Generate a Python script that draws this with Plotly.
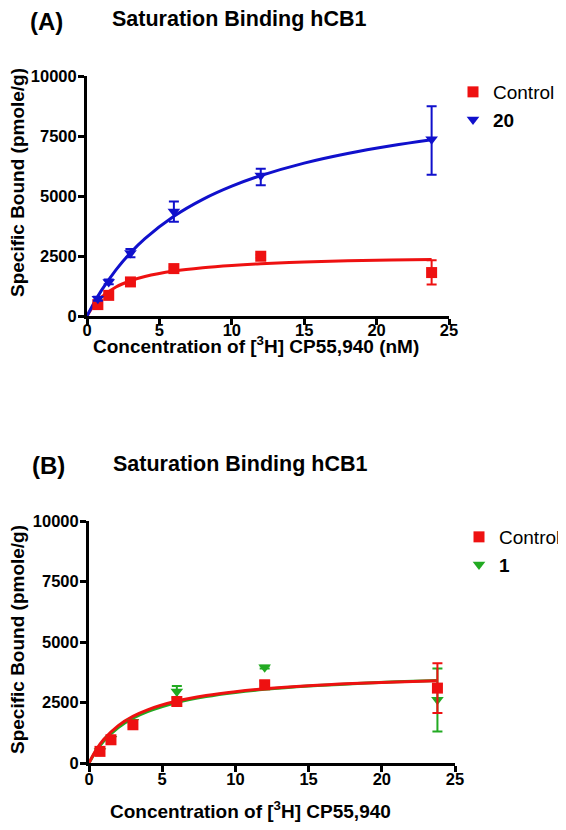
import plotly.graph_objects as go

# ---------------- Data ----------------
conc = [0.75, 1.5, 3, 6, 12, 23.8]

# Panel A
a_control = [475, 860, 1420, 1975, 2490, 1810]
a_control_err_p = [60, 60, 60, 60, 60, 510]
a_control_err_m = [60, 60, 60, 60, 60, 500]
a_cmp20 = [720, 1420, 2620, 4350, 5850, 7360]
a_cmp20_err_p = [80, 100, 170, 420, 290, 1380]
a_cmp20_err_m = [80, 100, 170, 420, 400, 1470]

# Panel B
b_control = [480, 960, 1580, 2540, 3230, 3095]
b_control_err_p = [60, 60, 80, 150, 170, 1030]
b_control_err_m = [60, 60, 80, 150, 170, 1030]
b_cmp1 = [500, 1000, 1700, 2950, 3960, 2610]
b_cmp1_err_p = [60, 60, 80, 235, 60, 1300]
b_cmp1_err_m = [60, 60, 80, 235, 60, 1310]

# Fitted curves
curve_x = [0, 0.5, 1, 2, 3, 4, 6, 8, 10, 12, 15, 18, 21, 23.8]
a_control_curve = [0, 464, 788, 1208, 1469, 1648, 1875, 2014, 2108, 2176, 2248, 2299, 2336, 2350]
a_cmp20_curve = [0, 563, 1066, 1925, 2631, 3222, 4155, 4860, 5409, 5850, 6371, 6772, 7091, 7340]
b_control_curve = [0, 553, 967, 1543, 1925, 2197, 2560, 2789, 2948, 3065, 3191, 3280, 3348, 3398]
b_cmp1_curve = [0, 511, 902, 1464, 1848, 2126, 2503, 2747, 2917, 3043, 3180, 3279, 3353, 3408]

x_ticks = [0, 5, 10, 15, 20, 25]
y_ticks = [0, 2500, 5000, 7500, 10000]
y_ticktext = ["0", "2500", "5000", "7500", "10000"]

RED = "#ee1111"
BLUE = "#1010cc"
GREEN = "#22aa22"
FONT = "Liberation Sans"

# the page body has an 8px margin, so the figure is offset by 8px
OFF = 8
W, H = 566 - OFF, 830 - OFF


def px(x):
    return (x - OFF) / W


def py(y):
    return 1 - (y - OFF) / H


fig = go.Figure()


def add_panel(xaxis, yaxis, legend, series):
    for name, vals, ep, em, curve, color, symbol in series:
        fig.add_trace(go.Scatter(
            x=curve_x, y=curve, mode="lines", line=dict(color=color, width=3, shape="spline"),
            xaxis=xaxis, yaxis=yaxis, showlegend=False, hoverinfo="skip"))
    for name, vals, ep, em, curve, color, symbol in series:
        fig.add_trace(go.Scatter(
            x=conc, y=vals, mode="markers", name=name,
            marker=dict(color=color, symbol=symbol, size=11, line=dict(width=0)),
            error_y=dict(type="data", array=ep, arrayminus=em, color=color, thickness=2, width=5),
            xaxis=xaxis, yaxis=yaxis, legend=legend))


add_panel("x", "y", "legend", [
    ("Control", a_control, a_control_err_p, a_control_err_m, a_control_curve, RED, "square"),
    ("<b>20</b>", a_cmp20, a_cmp20_err_p, a_cmp20_err_m, a_cmp20_curve, BLUE, "triangle-down"),
])

add_panel("x2", "y2", "legend2", [
    ("<b>1</b>", b_cmp1, b_cmp1_err_p, b_cmp1_err_m, b_cmp1_curve, GREEN, "triangle-down"),
    ("Control", b_control, b_control_err_p, b_control_err_m, b_control_curve, RED, "square"),
])


def axis(**kw):
    d = dict(
        showline=True, linecolor="black", linewidth=3, ticks="outside", ticklen=6, tickwidth=3,
        tickcolor="black", showgrid=False, zeroline=False, automargin=False,
        tickfont=dict(family=FONT, size=16.5, color="black", weight="bold"),
    )
    d.update(kw)
    return d


fig.update_layout(
    template="none",
    width=W, height=H,
    margin=dict(l=0, r=0, t=0, b=0, pad=0, autoexpand=False),
    paper_bgcolor="white", plot_bgcolor="white",
    xaxis=axis(domain=[px(87), px(449)], range=[0, 25], tickvals=x_ticks, anchor="y",
               ticklabelstandoff=-9),
    yaxis=axis(domain=[py(316), py(76)], range=[0, 10000], tickvals=y_ticks,
               ticktext=y_ticktext, anchor="x", ticklabelstandoff=-2),
    xaxis2=axis(domain=[px(89), px(455)], range=[0, 25], tickvals=x_ticks, anchor="y2",
                ticklabelstandoff=-7),
    yaxis2=axis(domain=[py(763), py(521)], range=[0, 10000], tickvals=y_ticks,
                ticktext=y_ticktext, anchor="x2", ticklabelstandoff=-2),
    legend=dict(x=px(453), y=py(73), xanchor="left", yanchor="top",
                font=dict(family=FONT, size=19, color="black"), bgcolor="rgba(0,0,0,0)",
                itemwidth=30, tracegroupgap=0),
    legend2=dict(x=1, y=py(518), xanchor="right", yanchor="top",
                 font=dict(family=FONT, size=19, color="black"), bgcolor="rgba(0,0,0,0)",
                 itemwidth=30, traceorder="reversed", tracegroupgap=0),
    showlegend=True,
)

ann = []


def txt(x, y, text, size, angle=0):
    ann.append(dict(x=px(x), y=py(y), xref="paper", yref="paper", text=text, showarrow=False,
                    xanchor="center", yanchor="middle", textangle=angle,
                    font=dict(family=FONT, size=size, color="black", weight="bold")))


txt(47, 21, "(A)", 24)
txt(239, 19, "Saturation Binding hCB1", 21.5)
txt(48, 465, "(B)", 24)
txt(240, 464, "Saturation Binding hCB1", 21.5)
txt(17, 183, "Specific Bound (pmole/g)", 19, -90)
txt(17, 640, "Specific Bound (pmole/g)", 19, -90)
txt(256, 345, "Concentration of [<sup>3</sup>H] CP55,940 (nM)", 19)
txt(250, 810, "Concentration of [<sup>3</sup>H] CP55,940", 19)

fig.update_layout(annotations=ann)

fig.write_html("out.html")
